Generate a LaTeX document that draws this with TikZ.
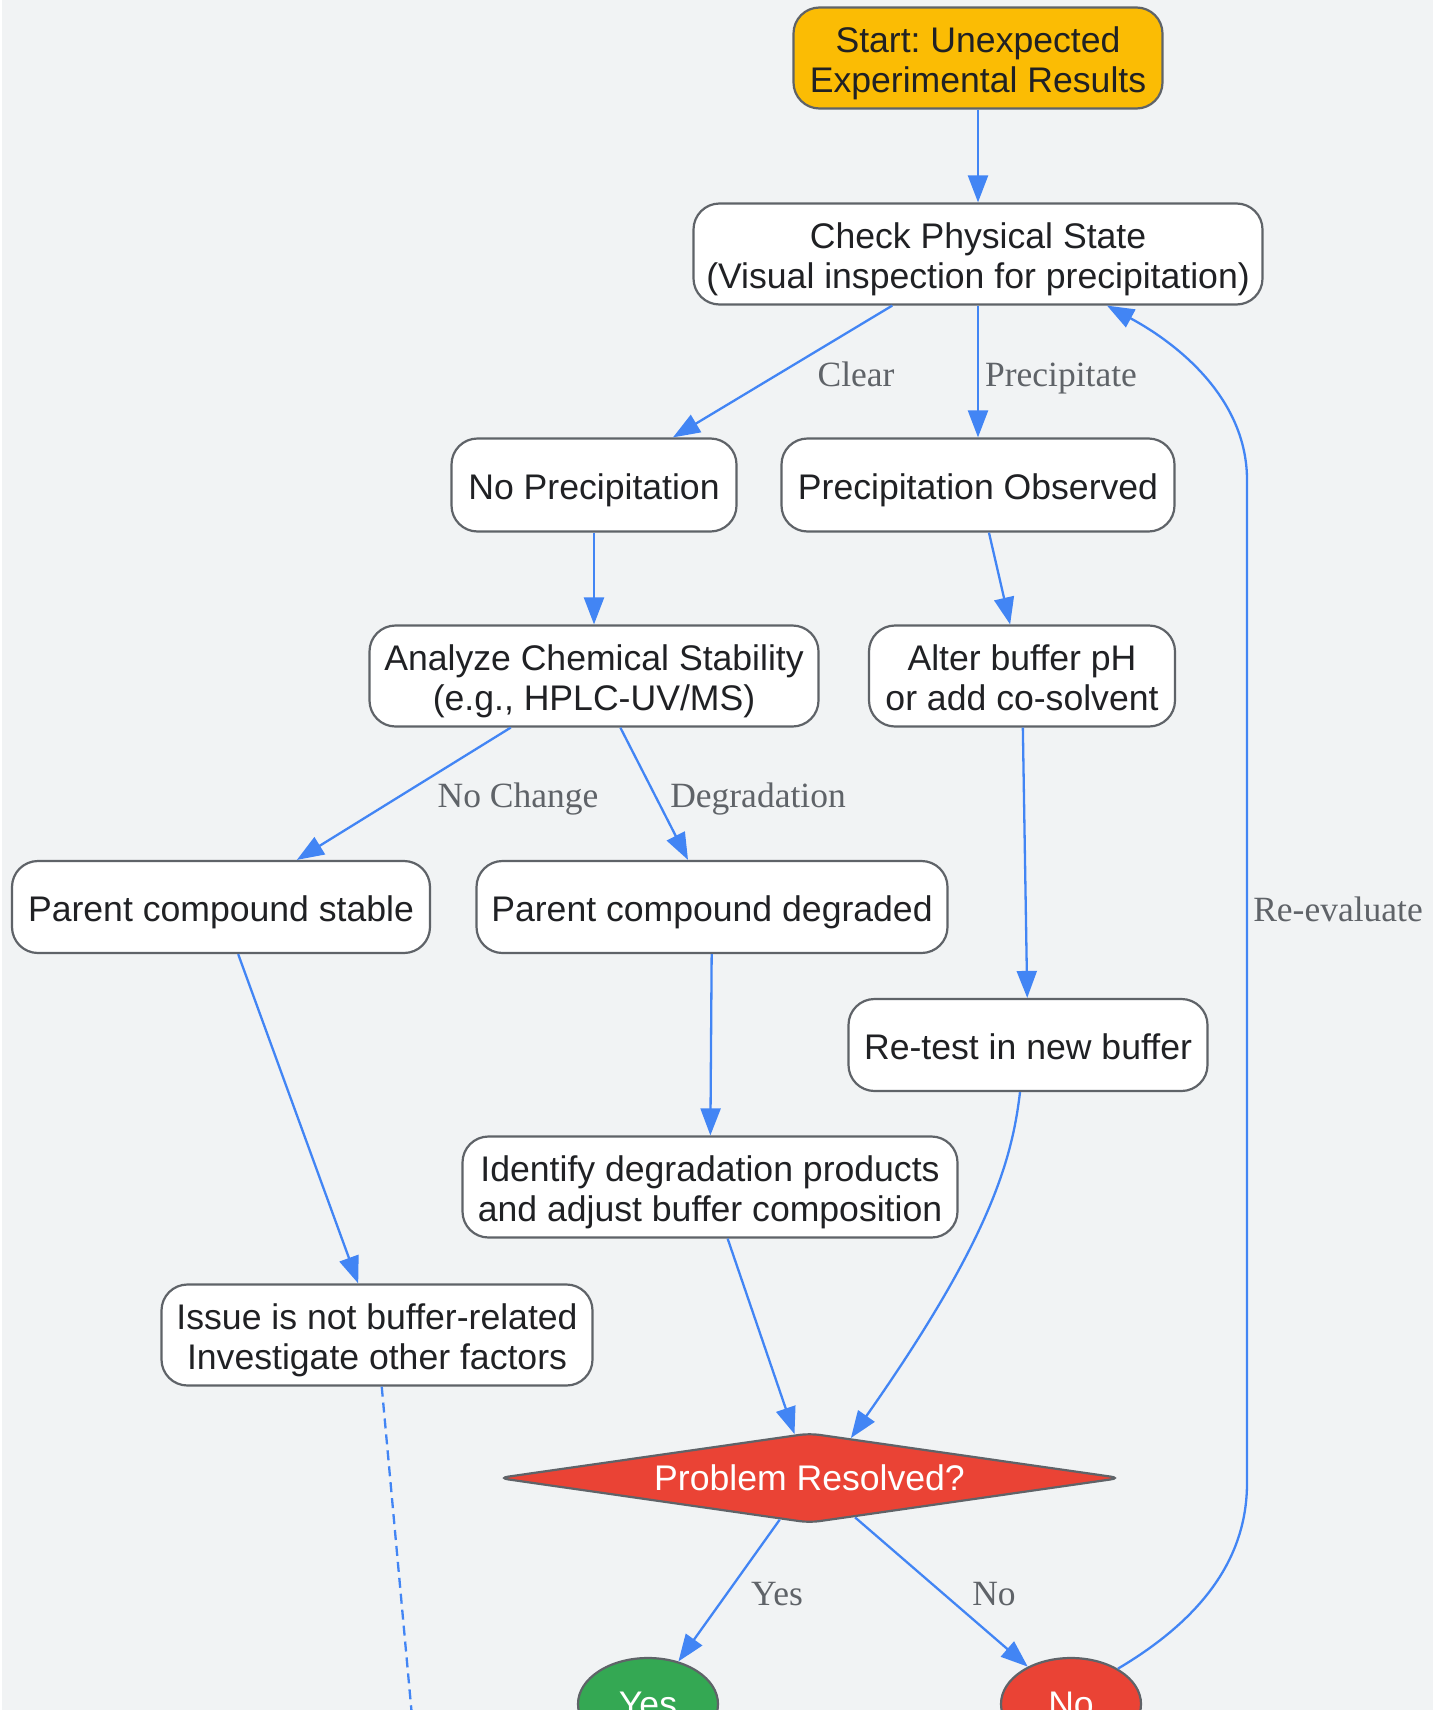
\documentclass[tikz,border=0pt]{standalone}
\usepackage{fontspec}
\setmainfont{Liberation Sans}
\newfontfamily\lblfont{Liberation Serif}
\usetikzlibrary{arrows.meta,shapes.geometric}
\definecolor{bgc}{HTML}{F1F3F4}
\definecolor{edgec}{HTML}{4285F4}
\definecolor{bordc}{HTML}{5F6368}
\definecolor{txtc}{HTML}{202124}
\definecolor{lblc}{HTML}{5F6368}
\definecolor{startc}{HTML}{FBBC04}
\definecolor{redc}{HTML}{EA4335}
\definecolor{greenc}{HTML}{34A853}
\frenchspacing
\newcommand{\tstrut}{\rule{0pt}{37pt}}
\newcommand{\bstrut}{\rule[-7.5pt]{0pt}{7.5pt}}
\begin{document}
\begin{tikzpicture}[x=1pt,y=-1pt,
  nfont/.style={font=\fontsize{35.6}{40}\selectfont\frenchspacing},
  box/.style={draw=bordc, line width=2.2pt, fill=white, rounded corners=26pt, align=center, text=txtc, nfont, inner sep=0pt},
  flow/.style={draw=edgec, line width=2.3pt, -{Triangle[length=27pt,width=20pt]}},
  dflow/.style={draw=edgec, line width=2.3pt, dash pattern=on 10pt off 6pt},
  elab/.style={text=lblc, font=\lblfont\fontsize{35.5}{40}\selectfont, inner sep=0pt},
  term/.style={draw=bordc, line width=2.2pt, ellipse, minimum width=140pt, minimum height=92pt, inner sep=0pt, text=white, nfont},
]
\useasboundingbox (0,0) rectangle (1442,1710);
\fill[white] (0,0) rectangle (1442,1710);
\fill[bgc] (2,0) rectangle (1433,1710);
\begin{scope}
\clip (0,0) rectangle (1442,1710);

\node[box, fill=startc, minimum width=369pt, minimum height=101pt] (start) at (978,58) {\tstrut Start: Unexpected\\Experimental Results\bstrut};
\node[box, minimum width=569pt, minimum height=101pt] (check) at (978,254) {\tstrut Check Physical State\\(Visual inspection for precipitation)\bstrut};
\node[box, minimum width=285pt, minimum height=93pt] (noprec) at (594,485) {\tstrut No Precipitation\bstrut};
\node[box, minimum width=393pt, minimum height=93pt] (prec) at (978,485) {\tstrut Precipitation Observed\bstrut};
\node[box, minimum width=449pt, minimum height=101pt] (analyze) at (594,676) {\tstrut Analyze Chemical Stability\\(e.g., HPLC-UV/MS)\bstrut};
\node[box, minimum width=306pt, minimum height=101pt] (alter) at (1022,676) {\tstrut Alter buffer pH\\or add co-solvent\bstrut};
\node[box, minimum width=418pt, minimum height=92pt] (stable) at (221,907) {\tstrut Parent compound stable\bstrut};
\node[box, minimum width=471pt, minimum height=92pt] (degraded) at (712,907) {\tstrut Parent compound degraded\bstrut};
\node[box, minimum width=359pt, minimum height=92pt] (retest) at (1028,1045) {\tstrut Re-test in new buffer\bstrut};
\node[box, minimum width=495pt, minimum height=101pt] (identify) at (710,1187) {\tstrut Identify degradation products\\and adjust buffer composition\bstrut};
\node[box, minimum width=431pt, minimum height=101pt] (issue) at (377,1335) {\tstrut Issue is not buffer-related\\Investigate other factors\bstrut};
\node[draw=bordc, line width=2.2pt, fill=redc, diamond, aspect=7, minimum width=623pt, minimum height=90pt, inner sep=0pt, rounded corners=10pt, text=white, nfont] (dec) at (809.5,1478) {Problem Resolved?};
\node[term, fill=greenc] (yes) at (648,1704) {Yes};
\node[term, fill=redc] (no) at (1071,1704) {No};

\coordinate (dend) at (416,1760);

\draw[flow] (start) -- (check);
\draw[flow] (check) -- (noprec);
\draw[flow] (check) -- (prec);
\draw[flow] (noprec) -- (analyze);
\draw[flow] (prec) -- (alter);
\draw[flow] (analyze) -- (stable);
\draw[flow] (analyze) -- (degraded);
\draw[flow] (alter) -- (retest);
\draw[flow] (stable) -- (issue);
\draw[flow] (degraded) -- (identify);
\draw[flow] (identify) -- (dec);
\draw[flow] ([xshift=-8pt]retest.south) .. controls (1012,1160) and (990,1240) .. (dec.44);
\draw[flow] (dec) -- (yes);
\draw[flow] (dec) -- (no);
\draw[flow] (no.37) .. controls (1200,1620) and (1247,1560) .. (1247,1483) -- (1247,480) .. controls (1247,400) and (1180,345) .. ([xshift=129pt]check.south);
\draw[dflow] (issue) -- (dend);

\node[elab] (lclear) at (856,374) {Clear};
\node[elab] (lprec) at (1061,378.5) {Precipitate};
\node[elab] (lnochange) at (518,799.5) {No Change};
\node[elab] (ldeg) at (758,799.5) {Degradation};
\node[elab] (lyes) at (777,1594) {Yes};
\node[elab] (lno) at (994,1594) {No};
\node[elab] (lreeval) at (1338,909) {Re-evaluate};
\end{scope}
\end{tikzpicture}
\end{document}
